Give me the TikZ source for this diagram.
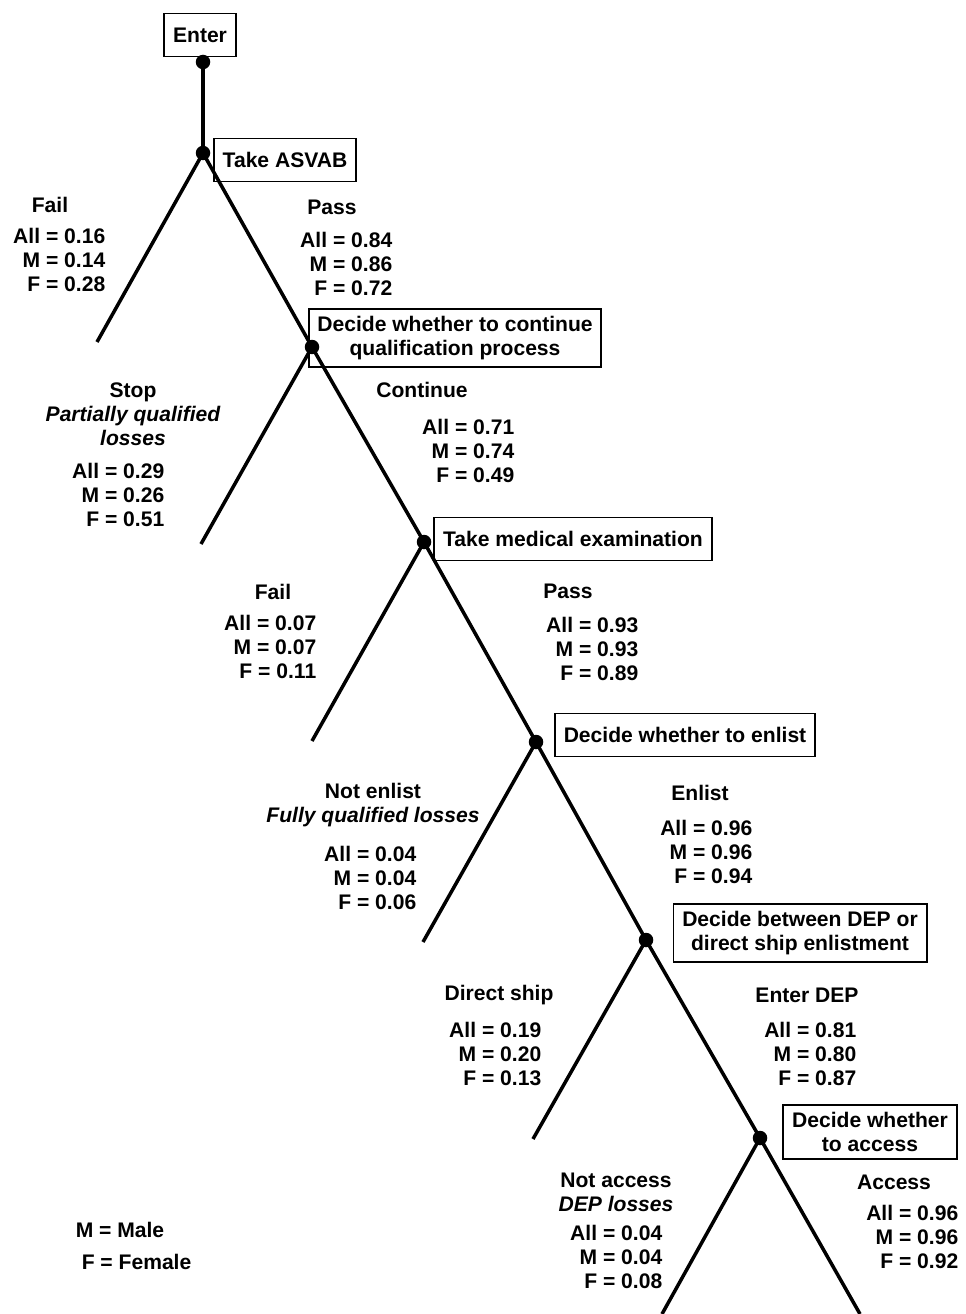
\documentclass[tikz,border=0pt]{standalone}
\usepackage{fontspec}
\setmainfont{Liberation Sans}

\begin{document}
\begin{tikzpicture}[x=0.02cm,y=-0.02cm,line width=2pt,
  every node/.style={font=\bfseries\fontsize{12}{13.7}\selectfont,inner sep=0pt},
  dot/.style={circle,fill=black,minimum size=0.29cm},
  box/.style={draw,line width=1.1pt,align=center,inner xsep=5pt,inner ysep=4pt,minimum height=0.86cm},
  num/.style={align=right,anchor=east},
  lbl/.style={align=center}]
  \useasboundingbox (0,0) rectangle (965,1314);
  % decision points
  \node[dot] (d0) at (203,62) {};
  \node[dot] (d1) at (203,153) {};
  \node[dot] (d2) at (312,347) {};
  \node[dot] (d3) at (424,542) {};
  \node[dot] (d4) at (536,742) {};
  \node[dot] (d5) at (646,940) {};
  \node[dot] (d6) at (760,1138) {};
  % free branch ends
  \coordinate (e1) at (97,342);
  \coordinate (e2) at (201,544);
  \coordinate (e3) at (312,741);
  \coordinate (e4) at (423,942);
  \coordinate (e5) at (533,1139);
  \coordinate (e6) at (662,1314);
  \coordinate (e7) at (860,1314);
  % boxes
  \node[box] (enter) at (200,35) {Enter};
  \node[box] (asvab) at (285,160) {Take ASVAB};
  \node[box] (qual) at (455,338) {Decide whether to continue\\qualification process};
  \node[box] (med) at (573,539) {Take medical examination};
  \node[box] (enlist) at (685,735) {Decide whether to enlist};
  \node[box] (choose) at (800,933) {Decide between DEP or\\direct ship enlistment};
  \node[box] (access) at (870,1132) {Decide whether\\to access};
  % branches
  \draw (d0.center)--(d1.center)--(d2.center)--(d3.center)--(d4.center)--(d5.center)--(d6.center)--(e7);
  \draw (d1.center)--(e1);
  \draw (d2.center)--(e2);
  \draw (d3.center)--(e3);
  \draw (d4.center)--(e4);
  \draw (d5.center)--(e5);
  \draw (d6.center)--(e6);
  % ASVAB
  \node[lbl] (fail1) at (50,205) {Fail};
  \node[num] (fail1n) at (107,260) {All = 0.16\\M = 0.14\\F = 0.28};
  \node[lbl] (pass1) at (332,207) {Pass};
  \node[num] (pass1n) at (394,264) {All = 0.84\\M = 0.86\\F = 0.72};
  % continue or stop
  \node[lbl] (stop) at (133,414) {Stop\\{\itshape Partially qualified}\\{\itshape losses}};
  \node[num] (stopn) at (166,495) {All = 0.29\\M = 0.26\\F = 0.51};
  \node[lbl] (cont) at (422,390) {Continue};
  \node[num] (contn) at (516,451) {All = 0.71\\M = 0.74\\F = 0.49};
  % medical
  \node[lbl] (fail3) at (273,592) {Fail};
  \node[num] (fail3n) at (318,647) {All = 0.07\\M = 0.07\\F = 0.11};
  \node[lbl] (pass3) at (568,591) {Pass};
  \node[num] (pass3n) at (640,649) {All = 0.93\\M = 0.93\\F = 0.89};
  % enlist
  \node[lbl] (notenl) at (373,805) {Not enlist\\{\itshape Fully qualified losses}};
  \node[num] (notenln) at (418,878) {All = 0.04\\M = 0.04\\F = 0.06};
  \node[lbl] (enl) at (700,793) {Enlist};
  \node[num] (enln) at (754,852) {All = 0.96\\M = 0.96\\F = 0.94};
  % DEP or direct ship
  \node[lbl] (direct) at (499,995) {Direct ship};
  \node[num] (directn) at (543,1054) {All = 0.19\\M = 0.20\\F = 0.13};
  \node[lbl] (dep) at (807,995) {Enter DEP};
  \node[num] (depn) at (858,1054) {All = 0.81\\M = 0.80\\F = 0.87};
  % access
  \node[lbl] (notacc) at (616,1192) {Not access\\{\itshape DEP losses}};
  \node[num] (notaccn) at (664,1257) {All = 0.04\\M = 0.04\\F = 0.08};
  \node[lbl] (acc) at (894,1182) {Access};
  \node[num] (accn) at (960,1237) {All = 0.96\\M = 0.96\\F = 0.92};
  % legend
  \node[anchor=west] (male) at (74,1230) {M = Male};
  \node[anchor=west] (female) at (80,1262) {F = Female};
\end{tikzpicture}
\end{document}
